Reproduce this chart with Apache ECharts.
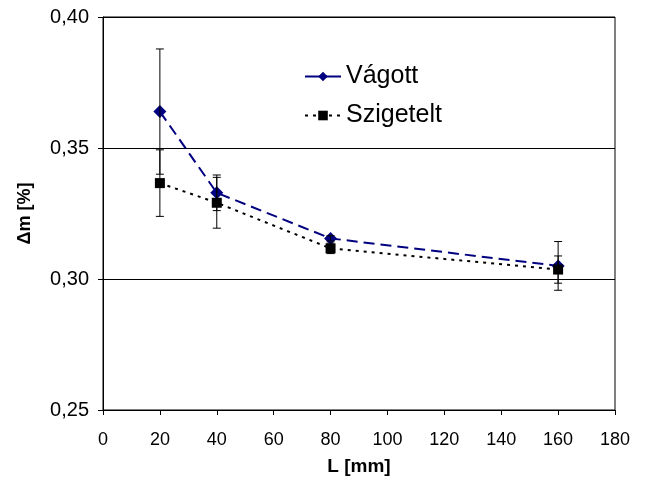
<!DOCTYPE html>
<html>
<head>
<meta charset="utf-8">
<script src="https://cdn.jsdelivr.net/npm/echarts@6/dist/echarts.min.js"></script>
<style>
  html, body { margin: 0; padding: 0; background: #fff; }
  #chart { width: 645px; height: 489px; }
</style>
</head>
<body>
<div id="chart"></div>
<script>
// values
const lengths = [20, 40, 80, 160]
const vagott = [0.3639, 0.3329, 0.3155, 0.3050]
const vagottErr = [0.0239, 0.0068, 0.0010, 0.0093]
const szigetelt = [0.3366, 0.3291, 0.3117, 0.3036]
const szigeteltErr = [0.0127, 0.0097, 0.0020, 0.0052]

const fontFam = 'Liberation Sans, Arial, sans-serif'

const pairs = (ys) => lengths.map((x, i) => [x, ys[i]])
const errRows = (ys, es) => lengths.map((x, i) => [x, ys[i] - es[i], ys[i] + es[i]])

// vertical error bar with caps
const renderErr = (params, api) => {
  const lo = api.coord([api.value(0), api.value(1)])
  const hi = api.coord([api.value(0), api.value(2)])
  const w = 4
  const st = { stroke: '#000', lineWidth: 1 }
  return {
    type: 'group',
    children: [
      { type: 'line', shape: { x1: lo[0], y1: lo[1], x2: hi[0], y2: hi[1] }, style: st },
      { type: 'line', shape: { x1: lo[0] - w, y1: lo[1], x2: lo[0] + w, y2: lo[1] }, style: st },
      { type: 'line', shape: { x1: hi[0] - w, y1: hi[1], x2: hi[0] + w, y2: hi[1] }, style: st }
    ]
  }
}

const chart = echarts.init(document.getElementById('chart'))
chart.setOption({
  animation: false,
  backgroundColor: '#fff',
  textStyle: { fontFamily: fontFam },
  grid: {
    left: 103, right: 30, top: 17, bottom: 79,
    show: true, borderColor: '#000', borderWidth: 1
  },
  legend: {
    orient: 'vertical',
    left: 299,
    top: 59,
    itemWidth: 36,
    itemHeight: 12,
    itemGap: 14,
    textStyle: { fontSize: 25, color: '#000', fontFamily: fontFam },
    data: [
      { name: 'Vágott', lineStyle: { type: 'solid' } },
      { name: 'Szigetelt' }
    ]
  },
  xAxis: {
    type: 'value',
    min: 0, max: 180, interval: 20,
    name: 'L [mm]',
    nameLocation: 'middle',
    nameGap: 47,
    nameTextStyle: { fontSize: 19, fontWeight: 'bold', color: '#000', fontFamily: fontFam },
    axisLine: { lineStyle: { color: '#000' } },
    axisTick: { show: true, inside: false, length: 5, lineStyle: { color: '#000' } },
    axisLabel: { fontSize: 18, color: '#000', margin: 21, fontFamily: fontFam },
    splitLine: { show: false }
  },
  yAxis: {
    type: 'value',
    min: 0.25, max: 0.40, interval: 0.05,
    name: 'Δm [%]',
    nameLocation: 'middle',
    nameGap: 69,
    nameTextStyle: { fontSize: 18, fontWeight: 'bold', color: '#000', fontFamily: fontFam },
    axisLine: { show: true, lineStyle: { color: '#000' } },
    axisTick: { show: true, inside: false, length: 5, lineStyle: { color: '#000' } },
    axisLabel: {
      fontSize: 20, color: '#000', margin: 14, fontFamily: fontFam,
      formatter: (v) => v.toFixed(2).replace('.', ',')
    },
    splitLine: { show: true, lineStyle: { color: '#000', width: 1 } }
  },
  series: [
    {
      name: 'Vágott',
      type: 'line',
      data: pairs(vagott),
      symbol: 'diamond',
      symbolSize: 13,
      itemStyle: { color: '#000080' },
      lineStyle: { color: '#000080', width: 2, type: [11, 6] },
      z: 3
    },
    {
      name: 'Szigetelt',
      type: 'line',
      data: pairs(szigetelt),
      symbol: 'rect',
      symbolSize: 10,
      itemStyle: { color: '#000' },
      lineStyle: { color: '#000', width: 2, type: [3, 5] },
      z: 3
    },
    {
      type: 'custom',
      renderItem: renderErr,
      data: errRows(vagott, vagottErr),
      encode: { x: 0, y: [1, 2] },
      silent: true,
      z: 4
    },
    {
      type: 'custom',
      renderItem: renderErr,
      data: errRows(szigetelt, szigeteltErr),
      encode: { x: 0, y: [1, 2] },
      silent: true,
      z: 4
    }
  ]
})
</script>
</body>
</html>
